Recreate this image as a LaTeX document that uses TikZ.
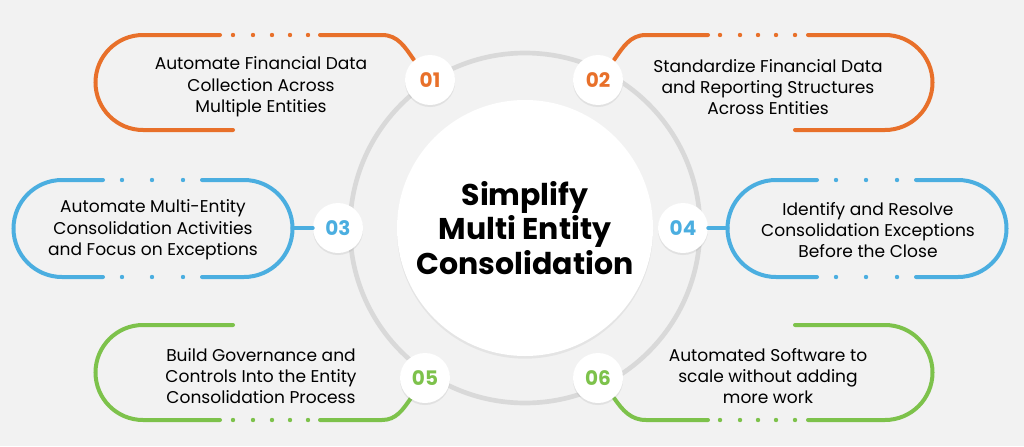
\documentclass[tikz,border=0pt]{standalone}
\usepackage{fontspec}
\setmainfont{Poppins}
\usetikzlibrary{shadows}
\definecolor{bgc}{HTML}{F2F2F2}
\definecolor{orng}{HTML}{E8702A}
\definecolor{blu}{HTML}{4BAEE0}
\definecolor{grn}{HTML}{7DC24B}
\definecolor{ring}{HTML}{D9D9D9}
\tikzset{
  num/.style={circle,fill=white,minimum size=37.5pt,inner sep=0pt,font=\fontsize{15}{15}\selectfont\bfseries,
    drop shadow={opacity=0.15,shadow xshift=0pt,shadow yshift=-1.5pt}},
  txt/.style={align=center,font=\fontsize{12.8}{16}\selectfont},
  band/.style={line width=3pt,line cap=round},
}
\begin{document}
\begin{tikzpicture}[x=0.75pt,y=-0.75pt]
			\fill[bgc] (0,0) rectangle (1024,446);
			\useasboundingbox (0,0) rectangle (1024,446);
			% centre
			\draw[ring,line width=3.5pt] (525,228) circle (175);
			\node[circle,fill=white,minimum size=192pt,drop shadow={opacity=0.12,shadow xshift=0pt,shadow yshift=-2pt}] (core) at (525,228) {};
			\node[align=center,font=\fontsize{22.5}{26}\selectfont\bfseries] (title) at (525,228) {Simplify\\Multi Entity\\Consolidation};
			% top row
			\draw[band,orng] (220,35) -- (143,35) arc (-90:-270:47.5) -- (233,130);
			\draw[band,orng] (320,35) -- (382,35) to[out=0,in=125] (414,60);
			\foreach \x in {233,253,272,290,308} \fill[orng] (\x,35) circle (2.2);
			\draw[band,orng] (808,35) -- (885,35) arc (-90:90:47.5) -- (795,130);
			\draw[band,orng] (708,35) -- (646,35) to[out=180,in=55] (614,60);
			\foreach \x in {720,740,758,776,795} \fill[orng] (\x,35) circle (2.2);
			\node[num,text=orng] (n1) at (430,80) {01};
			\node[num,text=orng] (n2) at (598,80) {02};
			\node[txt] (t1) at (261,87) {Automate Financial Data\\Collection Across\\Multiple Entities};
			\node[txt] (t2) at (768,87) {Standardize Financial Data\\and Reporting Structures\\Across Entities};
			% middle row
			\draw[band,blu] (103,180) -- (62,180) arc (-90:-270:48.5) -- (103,277);
			\draw[band,blu] (202,180) -- (244,180) arc (-90:90:48.5) -- (202,277);
			\draw[band,blu] (817,180) -- (776,180) arc (-90:-270:48.5) -- (817,277);
			\draw[band,blu] (916,180) -- (958,180) arc (-90:90:48.5) -- (916,277);
			\foreach \x in {122,152,183,836,866,897} {\fill[blu] (\x,180) circle (2.2); \fill[blu] (\x,277) circle (2.2);}
			\node[num,text=blu] (n3) at (338,228) {03};
			\node[num,text=blu] (n4) at (683,228) {04};
			\coordinate (e3) at (292.5,228);
			\coordinate (e4) at (727.5,228);
			\draw[band,blu] (e3) -- (n3);
			\draw[band,blu] (e4) -- (n4);
			\node[txt] (t3) at (153,230) {Automate Multi-Entity\\Consolidation Activities\\and Focus on Exceptions};
			\node[txt] (t4) at (868,230) {Identify and Resolve\\Consolidation Exceptions\\Before the Close};
			% bottom row
			\draw[band,grn] (233,325) -- (143,325) arc (-90:-270:47.5) -- (220,420);
			\draw[band,grn] (320,420) -- (382,420) to[out=0,in=-125] (411,398);
			\foreach \x in {233,253,272,290,308} \fill[grn] (\x,420) circle (2.2);
			\draw[band,grn] (795,325) -- (885,325) arc (-90:90:47.5) -- (808,420);
			\draw[band,grn] (708,420) -- (646,420) to[out=180,in=-55] (614,398);
			\foreach \x in {720,740,758,776,795} \fill[grn] (\x,420) circle (2.2);
			\node[num,text=grn] (n5) at (425,378) {05};
			\node[num,text=grn] (n6) at (598,378) {06};
			\node[txt] (t5) at (261,376) {Build Governance and\\Controls Into the Entity\\Consolidation Process};
			\node[txt] (t6) at (768,376) {Automated Software to\\scale without adding\\more work};
		\end{tikzpicture}
\end{document}
